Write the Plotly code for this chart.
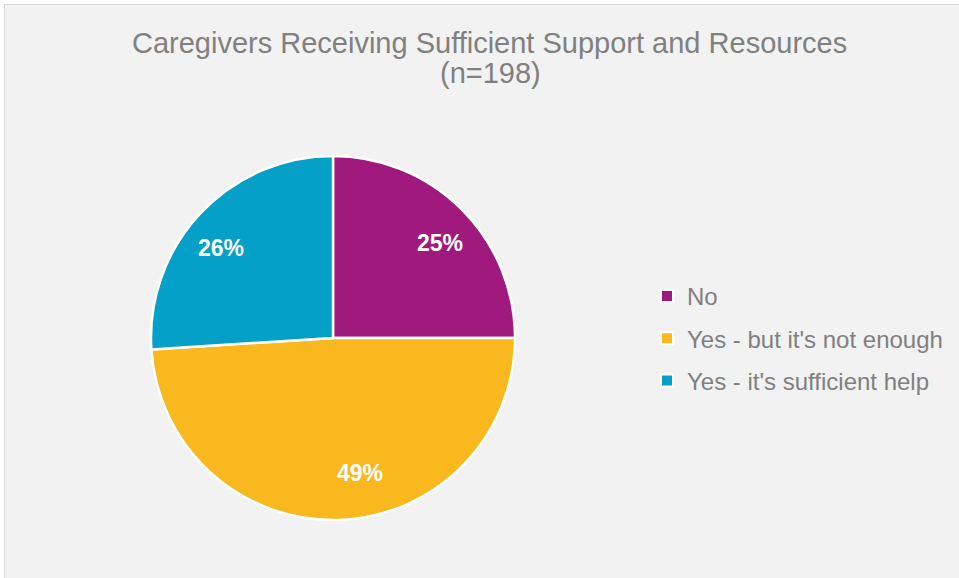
import math
import plotly.graph_objects as go

# Survey responses (percent of caregivers, n=198)
categories = ["No", "Yes - but it's not enough", "Yes - it's sufficient help"]
shares = [25, 49, 26]
colors = ["#a01a7d", "#f9b91e", "#04a0c8"]

title_line1 = "Caregivers Receiving Sufficient Support and Resources"
title_line2 = "(n=198)"

# label placement: distance from centre (fraction of radius) and angular nudge (deg)
label_radius = [0.786, 0.757, 0.79]
label_nudge = [3.4, -9.5, -4.4]

W, H = 959, 578
CX, CY, R = 333, 338, 182          # pie centre / radius in pixels
FONT = "Liberation Sans, Arial, sans-serif"
TEXT_GREY = "#808080"

fig = go.Figure()

fig.add_trace(go.Pie(
    labels=categories,
    values=shares,
    sort=False,
    direction="clockwise",
    rotation=0,
    marker=dict(colors=colors, line=dict(color="white", width=2.5)),
    textinfo="none",
    domain=dict(x=[(CX - R) / W, (CX + R) / W],
                y=[(H - CY - R) / H, (H - CY + R) / H]),
    showlegend=False,
    hoverinfo="label+percent",
))

# Percentage labels inside each slice
total = sum(shares)
start = 0.0
annotations = []
for v, rf, nudge in zip(shares, label_radius, label_nudge):
    sweep = 360.0 * v / total
    ang = math.radians(start + sweep / 2 + nudge)
    px = CX + rf * R * math.sin(ang)
    py = CY - rf * R * math.cos(ang)
    annotations.append(dict(
        x=px / W, y=1 - py / H, xref="paper", yref="paper",
        text=f"{100 * v / total:.0f}%", showarrow=False,
        xanchor="center", yanchor="middle",
        font=dict(family=FONT, size=23, color="white", weight="bold"),
    ))
    start += sweep

# Two-line title
annotations.append(dict(x=489 / W, y=1 - 43 / H, xref="paper", yref="paper",
                        text=title_line1, showarrow=False,
                        xanchor="center", yanchor="middle",
                        font=dict(family=FONT, size=29, color=TEXT_GREY)))
annotations.append(dict(x=490 / W, y=1 - 73 / H, xref="paper", yref="paper",
                        text=title_line2, showarrow=False,
                        xanchor="center", yanchor="middle",
                        font=dict(family=FONT, size=29, color=TEXT_GREY)))

# Legend entries as square markers, one group each so spacing can be set
for name, col in zip(categories, colors):
    fig.add_trace(go.Scatter(
        x=[None], y=[None], mode="markers", name=name,
        legendgroup=name,
        marker=dict(symbol="square", size=11, color=col,
                    line=dict(color="white", width=1.5)),
        hoverinfo="skip",
    ))

fig.update_layout(
    width=W, height=H,
    margin=dict(l=0, r=0, t=0, b=0),
    paper_bgcolor="#f2f2f2",
    plot_bgcolor="#f2f2f2",
    xaxis=dict(visible=False),
    yaxis=dict(visible=False),
    annotations=annotations,
    legend=dict(
        x=647 / W, y=1 - 274 / H, xanchor="left", yanchor="top",
        bgcolor="rgba(0,0,0,0)",
        font=dict(family=FONT, size=24, color=TEXT_GREY),
        tracegroupgap=8,
        itemsizing="constant",
    ),
    shapes=[
        # white outer frame strip and thin grey border on top/left
        dict(type="rect", xref="paper", yref="paper", x0=0, x1=4 / W, y0=0, y1=1,
             fillcolor="white", line=dict(width=0), layer="above"),
        dict(type="rect", xref="paper", yref="paper", x0=0, x1=1, y0=1 - 4 / H, y1=1,
             fillcolor="white", line=dict(width=0), layer="above"),
        dict(type="line", xref="paper", yref="paper", x0=4.5 / W, x1=4.5 / W,
             y0=0, y1=1 - 4 / H, line=dict(color="#d9d9d9", width=1), layer="above"),
        dict(type="line", xref="paper", yref="paper", x0=4 / W, x1=1,
             y0=1 - 4.5 / H, y1=1 - 4.5 / H, line=dict(color="#d9d9d9", width=1), layer="above"),
    ],
)

fig.write_html("out.html")
